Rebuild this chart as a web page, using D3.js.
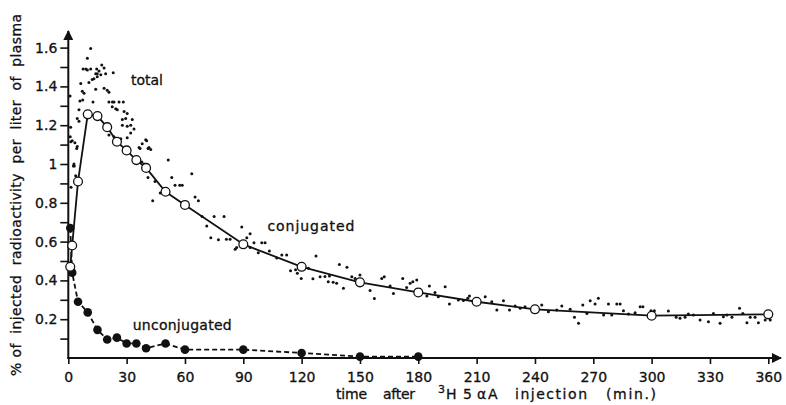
<!DOCTYPE html>
<html>
<head>
<meta charset="utf-8">
<script src="https://cdn.jsdelivr.net/npm/d3@7"></script>
<style>
  body { margin: 0; background: #fff; }
  text { font-family: "DejaVu Sans", sans-serif; fill: #111; stroke: #111; stroke-width: 0.3; }
</style>
</head>
<body>
<div id="chart"></div>
<script>
// sampling times (min) and values (% of dose per liter of plasma)
var conjTime  = [1, 2, 5, 10, 15, 20, 25, 30, 35, 40, 50, 60, 90, 120, 150, 180, 210, 240, 300, 360];
var conjValue = [0.47, 0.58, 0.91, 1.256, 1.247, 1.19, 1.115, 1.07, 1.02, 0.98, 0.857, 0.789, 0.586, 0.47, 0.39, 0.338, 0.29, 0.251, 0.218, 0.225];

var unconjTime  = [1, 2, 5, 10, 15, 20, 25, 30, 35, 40, 50, 60, 90, 120, 150, 180];
var unconjValue = [0.67, 0.44, 0.29, 0.235, 0.145, 0.095, 0.105, 0.075, 0.075, 0.05, 0.075, 0.043, 0.043, 0.026, 0.007, 0.007];

// "total" scatter, [time, value]
var totalDots = [
  [0.9,1.35],[1.2,1.19],[1.0,1.14],[1.3,1.115],[2.6,0.99],[3.1,0.99],[2.9,1.0],[3.8,0.94],[1.4,0.88],
  [2,1.12],[3.4,1.11],[4.6,1.09],[4.3,1.08],
  [4.6,1.235],[5.5,1.22],[5.5,1.28],[6,1.325],[7.4,1.33],
  [6.4,1.415],[7.2,1.375],[8.1,1.365],
  [7.6,1.49],[9,1.49],[9.8,1.485],[11.5,1.49],[9.8,1.545],[11.5,1.595],
  [10.6,1.42],[12.3,1.435],[13.2,1.44],[14.9,1.45],[12.7,1.32],
  [14.6,1.49],[15.8,1.48],[14.1,1.465],[14.9,1.465],[17.2,1.51],[18.4,1.495],[16.7,1.46],[19.2,1.465],[23.1,1.47],
  [14.1,1.385],[18.4,1.39],[20,1.38],[20.9,1.37],
  [20.9,1.32],[22.7,1.32],[23.5,1.32],[26.1,1.32],[28.3,1.32],
  [22.6,1.295],[24.4,1.285],[25.2,1.28],[28.7,1.27],[30.3,1.26],
  [27.8,1.23],[29.5,1.235],[32.9,1.23],
  [27.8,1.2],[30.3,1.195],[32.1,1.2],[33.8,1.18],[32.1,1.16],
  [20.9,1.15],[23.5,1.14],[27,1.13],[30.3,1.135],[25.2,1.125],
  [39.8,1.125],[38,1.105],[36.4,1.085],[41.5,1.085],[41,1.08],[36.9,1.08],[42.4,1.075],[40.3,1.12],
  [37.8,1.01],[38.9,1.0],[51.4,1.02],
  [41,0.93],[44.6,0.91],[53.2,0.93],[63.5,0.95],
  [54.9,0.89],[57.3,0.89],[58.6,0.89],[47.3,0.85],[43.4,0.81],[65.2,0.83],[66.9,0.81],
  [68.8,0.73],[75,0.73],[80.1,0.73],[71.2,0.68],[89.2,0.675],
  [73.3,0.62],[77.2,0.61],[81.3,0.612],[83.2,0.612],[93.5,0.64],[91.8,0.62],
  [95.5,0.594],[99.5,0.594],[101.2,0.594],[86.6,0.57],[93.5,0.57],[85.8,0.56],
  [97.7,0.543],[103.4,0.552],[107.2,0.515],[109.8,0.531],[112.3,0.531],
  [114.3,0.45],[116.9,0.455],[117.8,0.437],[127.4,0.526],[119.8,0.41],[123.5,0.462],[125.8,0.408],
  [129.5,0.419],[132,0.42],[134.3,0.423],[133.7,0.393],[136.2,0.39],[138,0.385],
  [139.4,0.482],[143.3,0.468],[141.5,0.359],[145.8,0.419],[147.5,0.41],[150,0.428],
  [155.2,0.348],[157.4,0.307],[161.2,0.41],[162.5,0.419],[165.5,0.371],[167.2,0.333],
  [172,0.41],[174,0.364],[175.8,0.385],[177.2,0.393],[179.2,0.402],[185.7,0.371],
  [184.4,0.32],[188.6,0.337],[190.3,0.316],[193.8,0.367],[196,0.278],
  [200.6,0.299],[203.2,0.297],[205.4,0.308],[206.3,0.32],
  [214.4,0.316],[217.8,0.29],[220.4,0.247],[223.8,0.295],[226.9,0.247],[229.8,0.268],[232.4,0.256],[234.9,0.264],
  [243.5,0.273],[246.9,0.239],[251.2,0.247],[253.8,0.268],[258.1,0.251],[260.3,0.21],[262.4,0.179],
  [264.6,0.273],[268.4,0.295],[270.9,0.278],[272.6,0.308],[277.8,0.278],[282.1,0.278],[283.8,0.278],
  [266.7,0.23],[275.3,0.222],[279.5,0.222],
  [285.5,0.244],[288.1,0.227],[291.5,0.233],[294.1,0.264],[295.5,0.264],[299.7,0.244],[301.4,0.244],
  [308.6,0.242],[312.6,0.21],[314.6,0.205],[317.2,0.21],[318.9,0.227],[321.5,0.222],
  [324.9,0.196],[329.2,0.187],[331.8,0.23],[335.2,0.179],[336.9,0.213],[338.7,0.222],[341.3,0.21],
  [345.2,0.256],[346.9,0.23],[349,0.182],[350.7,0.21],[353.2,0.21],[354.9,0.182],[358.4,0.196],[361,0.196]
];

var xTicks = [0, 30, 60, 90, 120, 150, 180, 210, 240, 270, 300, 330, 360];
var yTicks = [0.1, 0.2, 0.3, 0.4, 0.5, 0.6, 0.7, 0.8, 0.9, 1.0, 1.1, 1.2, 1.3, 1.4, 1.5, 1.6];
var yLabels = [0.2, 0.4, 0.6, 0.8, 1.0, 1.2, 1.4, 1.6];

var width = 786, height = 405;

var svg = d3.select('#chart').append('svg')
    .attr('width', width)
    .attr('height', height);

var x = d3.scaleLinear().domain([0, 360]).range([68.3, 768.3]);
var y = d3.scaleLinear().domain([0, 1.6]).range([358, 47.6]);

// arrow head for the axes
svg.append('defs').append('marker')
    .attr('id', 'arrow')
    .attr('viewBox', '0 0 10 10')
    .attr('refX', 9).attr('refY', 5)
    .attr('markerWidth', 5).attr('markerHeight', 5)
    .attr('orient', 'auto')
  .append('path')
    .attr('d', 'M0,0 L10,5 L0,10 Z')
    .attr('fill', '#111');

// x axis
var xAxis = d3.axisBottom(x).tickValues(xTicks).tickSize(6).tickPadding(8).tickSizeOuter(0);
var gx = svg.append('g').attr('transform', 'translate(0,' + y(0) + ')').call(xAxis);
gx.select('.domain').remove();
gx.selectAll('.tick line').attr('stroke', '#111').attr('stroke-width', 1.6);
gx.selectAll('.tick text').attr('font-size', 14).attr('font-family', '"DejaVu Sans", sans-serif').attr('fill', '#111');
svg.append('line')
    .attr('x1', x(0) - 1).attr('x2', 781)
    .attr('y1', y(0)).attr('y2', y(0))
    .attr('stroke', '#111').attr('stroke-width', 2)
    .attr('marker-end', 'url(#arrow)');

// y axis
var yAxis = d3.axisLeft(y).tickValues(yTicks).tickSize(8).tickPadding(3).tickSizeOuter(0)
    .tickFormat(function(d) {
        var on = yLabels.some(function(v) { return Math.abs(v - d) < 1e-6; });
        if (!on) return '';
        return Math.abs(d - 1) < 1e-6 ? '1' : d3.format('.1f')(d);
    });
var gy = svg.append('g').attr('transform', 'translate(' + x(0) + ',0)').call(yAxis);
gy.select('.domain').remove();
gy.selectAll('.tick line').attr('stroke', '#111').attr('stroke-width', 1.6);
gy.selectAll('.tick text').attr('font-size', 14).attr('font-family', '"DejaVu Sans", sans-serif').attr('fill', '#111');
svg.append('line')
    .attr('x1', x(0)).attr('x2', x(0))
    .attr('y1', y(0) + 1).attr('y2', 31)
    .attr('stroke', '#111').attr('stroke-width', 2)
    .attr('marker-end', 'url(#arrow)');

// total scatter
svg.append('g').selectAll('circle').data(totalDots)
    .enter().append('circle')
    .attr('cx', function(d) { return x(d[0]); })
    .attr('cy', function(d) { return y(d[1]); })
    .attr('r', 1.5)
    .attr('fill', '#111');

// unconjugated, dashed line with filled dots
var unconj = unconjTime.map(function(t, i) { return [t, unconjValue[i]]; });
var line = d3.line().x(function(d) { return x(d[0]); }).y(function(d) { return y(d[1]); });
svg.append('path').datum(unconj)
    .attr('d', line)
    .attr('fill', 'none').attr('stroke', '#111')
    .attr('stroke-width', 1.8).attr('stroke-dasharray', '5,3');
svg.append('g').selectAll('circle').data(unconj)
    .enter().append('circle')
    .attr('cx', function(d) { return x(d[0]); })
    .attr('cy', function(d) { return y(d[1]); })
    .attr('r', 4.3)
    .attr('fill', '#111');

// conjugated, solid line with open circles
var conj = conjTime.map(function(t, i) { return [t, conjValue[i]]; });
svg.append('path').datum(conj)
    .attr('d', line)
    .attr('fill', 'none').attr('stroke', '#111').attr('stroke-width', 1.8);
svg.append('g').selectAll('circle').data(conj)
    .enter().append('circle')
    .attr('cx', function(d) { return x(d[0]); })
    .attr('cy', function(d) { return y(d[1]); })
    .attr('r', 4.4)
    .attr('fill', '#fff').attr('stroke', '#111').attr('stroke-width', 1.3);

// series labels
var labels = [
    { text: 'total', t: 32.2, v: 1.407, len: 32 },
    { text: 'conjugated', t: 102.4, v: 0.655, len: 87 },
    { text: 'unconjugated', t: 33.1, v: 0.145, len: 99 }
];
svg.append('g').selectAll('text').data(labels)
    .enter().append('text')
    .attr('x', function(d) { return x(d.t); })
    .attr('y', function(d) { return y(d.v); })
    .attr('font-size', 14)
    .attr('textLength', function(d) { return d.len; })
    .attr('lengthAdjust', 'spacing')
    .text(function(d) { return d.text; });

// axis titles
svg.append('text')
    .attr('transform', 'translate(21,195) rotate(-90)')
    .attr('text-anchor', 'middle')
    .attr('font-size', 14)
    .attr('textLength', 362)
    .attr('lengthAdjust', 'spacing')
    .style('white-space', 'pre')
    .text('% of  injected  radioactivity  per  liter  of  plasma');

var xTitle = [
    { text: 'time', px: 336, len: 31 },
    { text: 'after', px: 383, len: 32 },
    { text: 'H', px: 446, len: 9 },
    { text: '5', px: 463, len: 8 },
    { text: '\u03b1', px: 477, len: 9 },
    { text: 'A', px: 488, len: 10 },
    { text: 'injection', px: 515, len: 72 },
    { text: '(min.)', px: 606, len: 50 }
];
var xt = svg.append('g');
xt.selectAll('text').data(xTitle)
    .enter().append('text')
    .attr('x', function(d) { return d.px; })
    .attr('y', 399)
    .attr('font-size', 14)
    .attr('textLength', function(d) { return d.len; })
    .attr('lengthAdjust', 'spacing')
    .text(function(d) { return d.text; });
xt.append('text')
    .attr('x', 438).attr('y', 393)
    .attr('font-size', 11)
    .text('3');
</script>
</body>
</html>
